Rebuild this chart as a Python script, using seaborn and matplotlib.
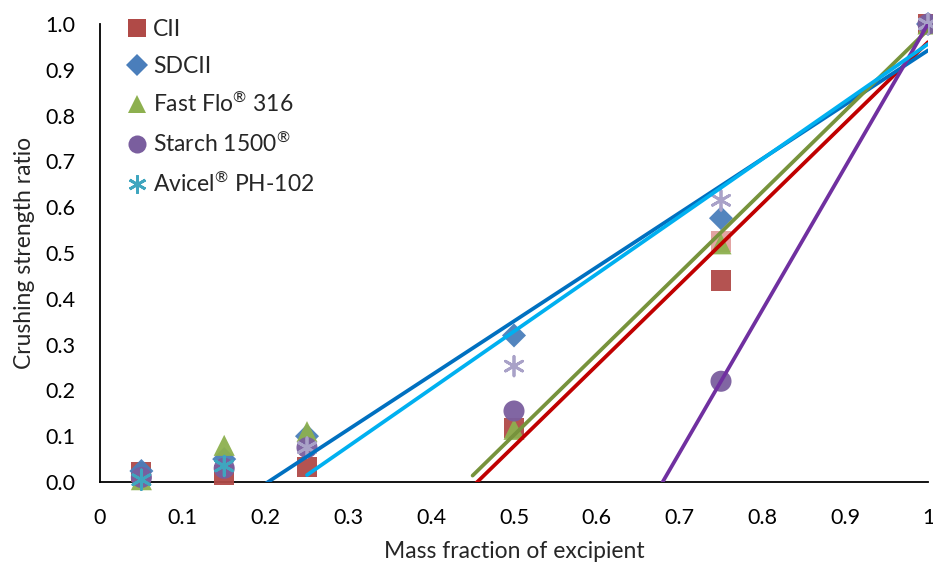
import numpy as np
import pandas as pd
import matplotlib
matplotlib.use("Agg")
import matplotlib.pyplot as plt
from matplotlib.lines import Line2D
from matplotlib.ticker import MultipleLocator
import seaborn as sns

# mass fraction of excipient
mass_fraction = [0.05, 0.15, 0.25, 0.5, 0.75, 1.0]

# crushing strength ratio
cii = [0.022, 0.015, 0.033, 0.118, 0.44, 1.0]
sdcii = [0.024, 0.05, 0.10, 0.32, 0.576, 1.0]
fast_flo = [0.005, 0.08, 0.11, 0.115, 0.52, 1.0]
starch = [0.01, 0.03, 0.075, 0.155, 0.22, 1.0]
avicel = [0.005, 0.035, 0.075, 0.253, 0.615, 1.0]

# second CII point visible behind the triangle at 0.75
cii_extra_x = [0.75]
cii_extra_y = [0.525]

series_names = ["CII", "SDCII", r"Fast Flo$^{\circledR}$ 316",
                r"Starch 1500$^{\circledR}$", r"Avicel$^{\circledR}$ PH-102"]
series_values = [cii, sdcii, fast_flo, starch, avicel]

# trendline settings: first x used in fit, backward forecast
fit_start = [0.5, 0.25, 0.5, 0.75, 0.25]
backcast = [0.05, 0.05, 0.05, 0.1, 0.0]

marker_colors = ["#B04A47", "#4A7EBB", "#8DB04F", "#7A5E9E", "#3FA6BF"]
marker_styles = ["s", "D", "^", "o", (6, 2, 0)]
marker_sizes = [210, 150, 230, 230, 200]
line_colors = ["#C00000", "#0070C0", "#77933C", "#7030A0", "#00B0F0"]
light_avicel = "#A9A2C8"

sns.set_style("white")
plt.rcParams["font.family"] = ["Lato", "DejaVu Sans"]
plt.rcParams["mathtext.fontset"] = "custom"
plt.rcParams["mathtext.rm"] = "Lato"
plt.rcParams["mathtext.it"] = "Lato"

fig, ax = plt.subplots(figsize=(9.33, 5.67), dpi=100)
fig.subplots_adjust(left=100 / 933, right=928 / 933, bottom=1 - 482 / 567, top=1 - 24 / 567)

x = np.array(mass_fraction)

# markers
sns.scatterplot(x=cii_extra_x, y=cii_extra_y, marker="s", s=210, color="#E3A4A3",
                edgecolor="none", ax=ax, clip_on=False, zorder=2)
for i, (name, vals) in enumerate(zip(series_names, series_values)):
    if i == 4:
        cols = [marker_colors[i] if xi < 0.25 else light_avicel for xi in x]
        ax.scatter(x, vals, marker=marker_styles[i], s=marker_sizes[i], c=cols,
                   linewidths=2, clip_on=False, zorder=3 + i)
    else:
        sns.scatterplot(x=x, y=vals, marker=marker_styles[i], s=marker_sizes[i],
                        color=marker_colors[i], edgecolor="none", alpha=0.95,
                        ax=ax, clip_on=False, zorder=3 + i)

# linear trendlines
for i, vals in enumerate(series_values):
    y = np.array(vals)
    mask = x >= fit_start[i]
    slope, intercept = np.polyfit(x[mask], y[mask], 1)
    xs = np.array([fit_start[i] - backcast[i], 1.0])
    sns.lineplot(x=xs, y=slope * xs + intercept, color=line_colors[i],
                 linewidth=2.7, ax=ax, zorder=10)

ax.set_xlim(0, 1)
ax.set_ylim(0, 1)
ax.xaxis.set_minor_locator(MultipleLocator(0.02))
ax.yaxis.set_minor_locator(MultipleLocator(0.02))
xt = np.round(np.arange(0, 1.01, 0.1), 1)
ax.set_xticks(xt)
ax.set_xticklabels(["0", "0.1", "0.2", "0.3", "0.4", "0.5", "0.6", "0.7", "0.8", "0.9", "1"])
ax.set_yticks(xt)
ax.set_yticklabels([f"{v:.1f}" for v in xt])
ax.tick_params(axis="both", which="major", direction="out", length=7, width=1.3,
               labelsize=15.5, color="black", labelcolor="black")
ax.tick_params(axis="both", which="minor", direction="out", length=4, width=1.1, color="black")
ax.tick_params(axis="x", which="major", pad=12)
ax.tick_params(axis="y", which="major", pad=11)

for side in ["top", "right"]:
    ax.spines[side].set_visible(False)
for side in ["left", "bottom"]:
    ax.spines[side].set_color("black")
    ax.spines[side].set_linewidth(1.3)

ax.set_xlabel("Mass fraction of excipient", fontsize=16.5, labelpad=9)
ax.set_ylabel("Crushing strength ratio", fontsize=16.5, labelpad=7)

handles = []
for i, name in enumerate(series_names):
    handles.append(Line2D([], [], linestyle="none", marker=marker_styles[i],
                          markersize=13 if i != 1 else 11, color=marker_colors[i],
                          markeredgewidth=2 if i == 4 else 0))
ax.legend(handles, series_names, loc="upper left", bbox_to_anchor=(0.017, 1.03),
          frameon=False, fontsize=16.5, handletextpad=0.1, labelspacing=0.67,
          handlelength=1.2, borderaxespad=0)

plt.savefig("out.png", dpi=100)
